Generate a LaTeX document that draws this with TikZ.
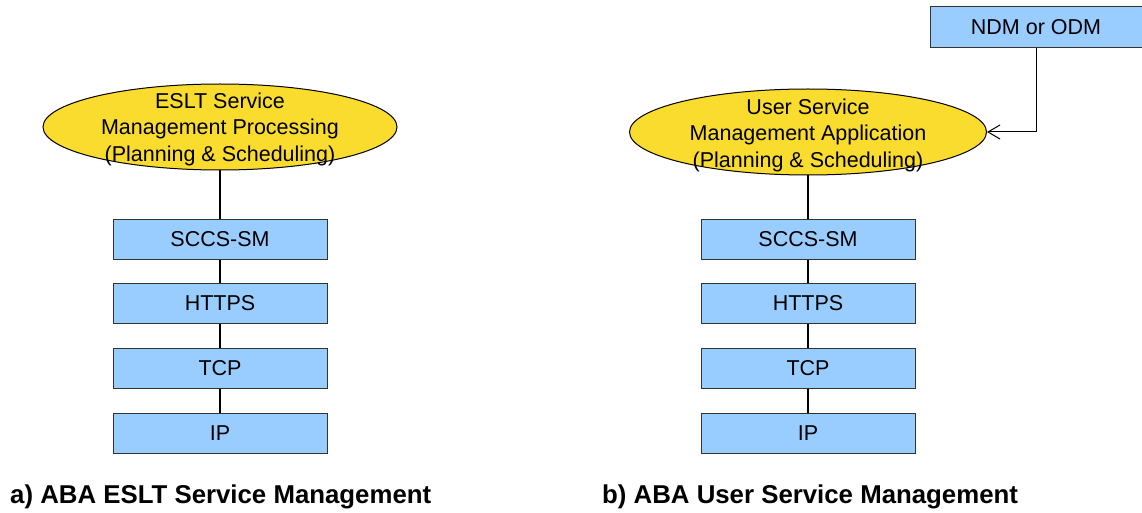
\documentclass[tikz,border=0pt]{standalone}
\usepackage{fontspec}
\setmainfont{Liberation Sans}
\usetikzlibrary{shapes.geometric,arrows.meta}
\definecolor{ellyellow}{HTML}{F9DC2E}
\definecolor{boxblue}{HTML}{99CCFF}
\definecolor{boxline}{HTML}{333333}
\tikzset{
  layerbox/.style={draw=boxline, line width=1pt, fill=boxblue, minimum width=214pt, minimum height=40pt, inner sep=0pt, font=\fontsize{21.5}{24}\selectfont},
  ellshape/.style={draw=black, line width=1pt, fill=ellyellow, ellipse, minimum width=354pt, minimum height=86pt, inner sep=0pt},
  elltext/.style={align=center, inner sep=0pt, font=\fontsize{21.5}{26.5}\selectfont},
  stackline/.style={draw=black, line width=2pt},
  caption/.style={anchor=west, inner sep=0pt, font=\fontsize{25.8}{28}\selectfont\bfseries},
}
\begin{document}
\begin{tikzpicture}[x=1pt,y=-1pt]
\useasboundingbox (0,0) rectangle (1142,513);
% left stack
\node[ellshape] (e1) at (220,127) {};
\node[elltext] (t1) at (220,129) {ESLT Service\\Management Processing\\(Planning \& Scheduling)};
\node[layerbox] (l1) at (220,239) {SCCS-SM};
\node[layerbox] (l2) at (220,303) {HTTPS};
\node[layerbox] (l3) at (220,368) {TCP};
\node[layerbox] (l4) at (220,433) {IP};
\draw[stackline] (e1.south) -- (l1.north);
\draw[stackline] (l1.south) -- (l2.north);
\draw[stackline] (l2.south) -- (l3.north);
\draw[stackline] (l3.south) -- (l4.north);
% right stack
\node[ellshape, minimum width=357pt] (e2) at (808,132) {};
\node[elltext] (t2) at (808,135) {User Service\\Management Application\\(Planning \& Scheduling)};
\node[layerbox] (r1) at (808,239) {SCCS-SM};
\node[layerbox] (r2) at (808,303) {HTTPS};
\node[layerbox] (r3) at (808,368) {TCP};
\node[layerbox] (r4) at (808,433) {IP};
\draw[stackline] (e2.south) -- (r1.north);
\draw[stackline] (r1.south) -- (r2.north);
\draw[stackline] (r2.south) -- (r3.north);
\draw[stackline] (r3.south) -- (r4.north);
% NDM box
\node[layerbox, minimum width=212pt, minimum height=41pt] (ndm) at (1036,27.5) {NDM or ODM};
\draw[line width=1pt, -{Straight Barb[length=12pt,width=14pt]}] (ndm.south) |- (e2.east);
% captions
\node[caption] (c1) at (10,497) {a) ABA ESLT Service Management};
\node[caption] (c2) at (602,497) {b) ABA User Service Management};
\end{tikzpicture}
\end{document}
